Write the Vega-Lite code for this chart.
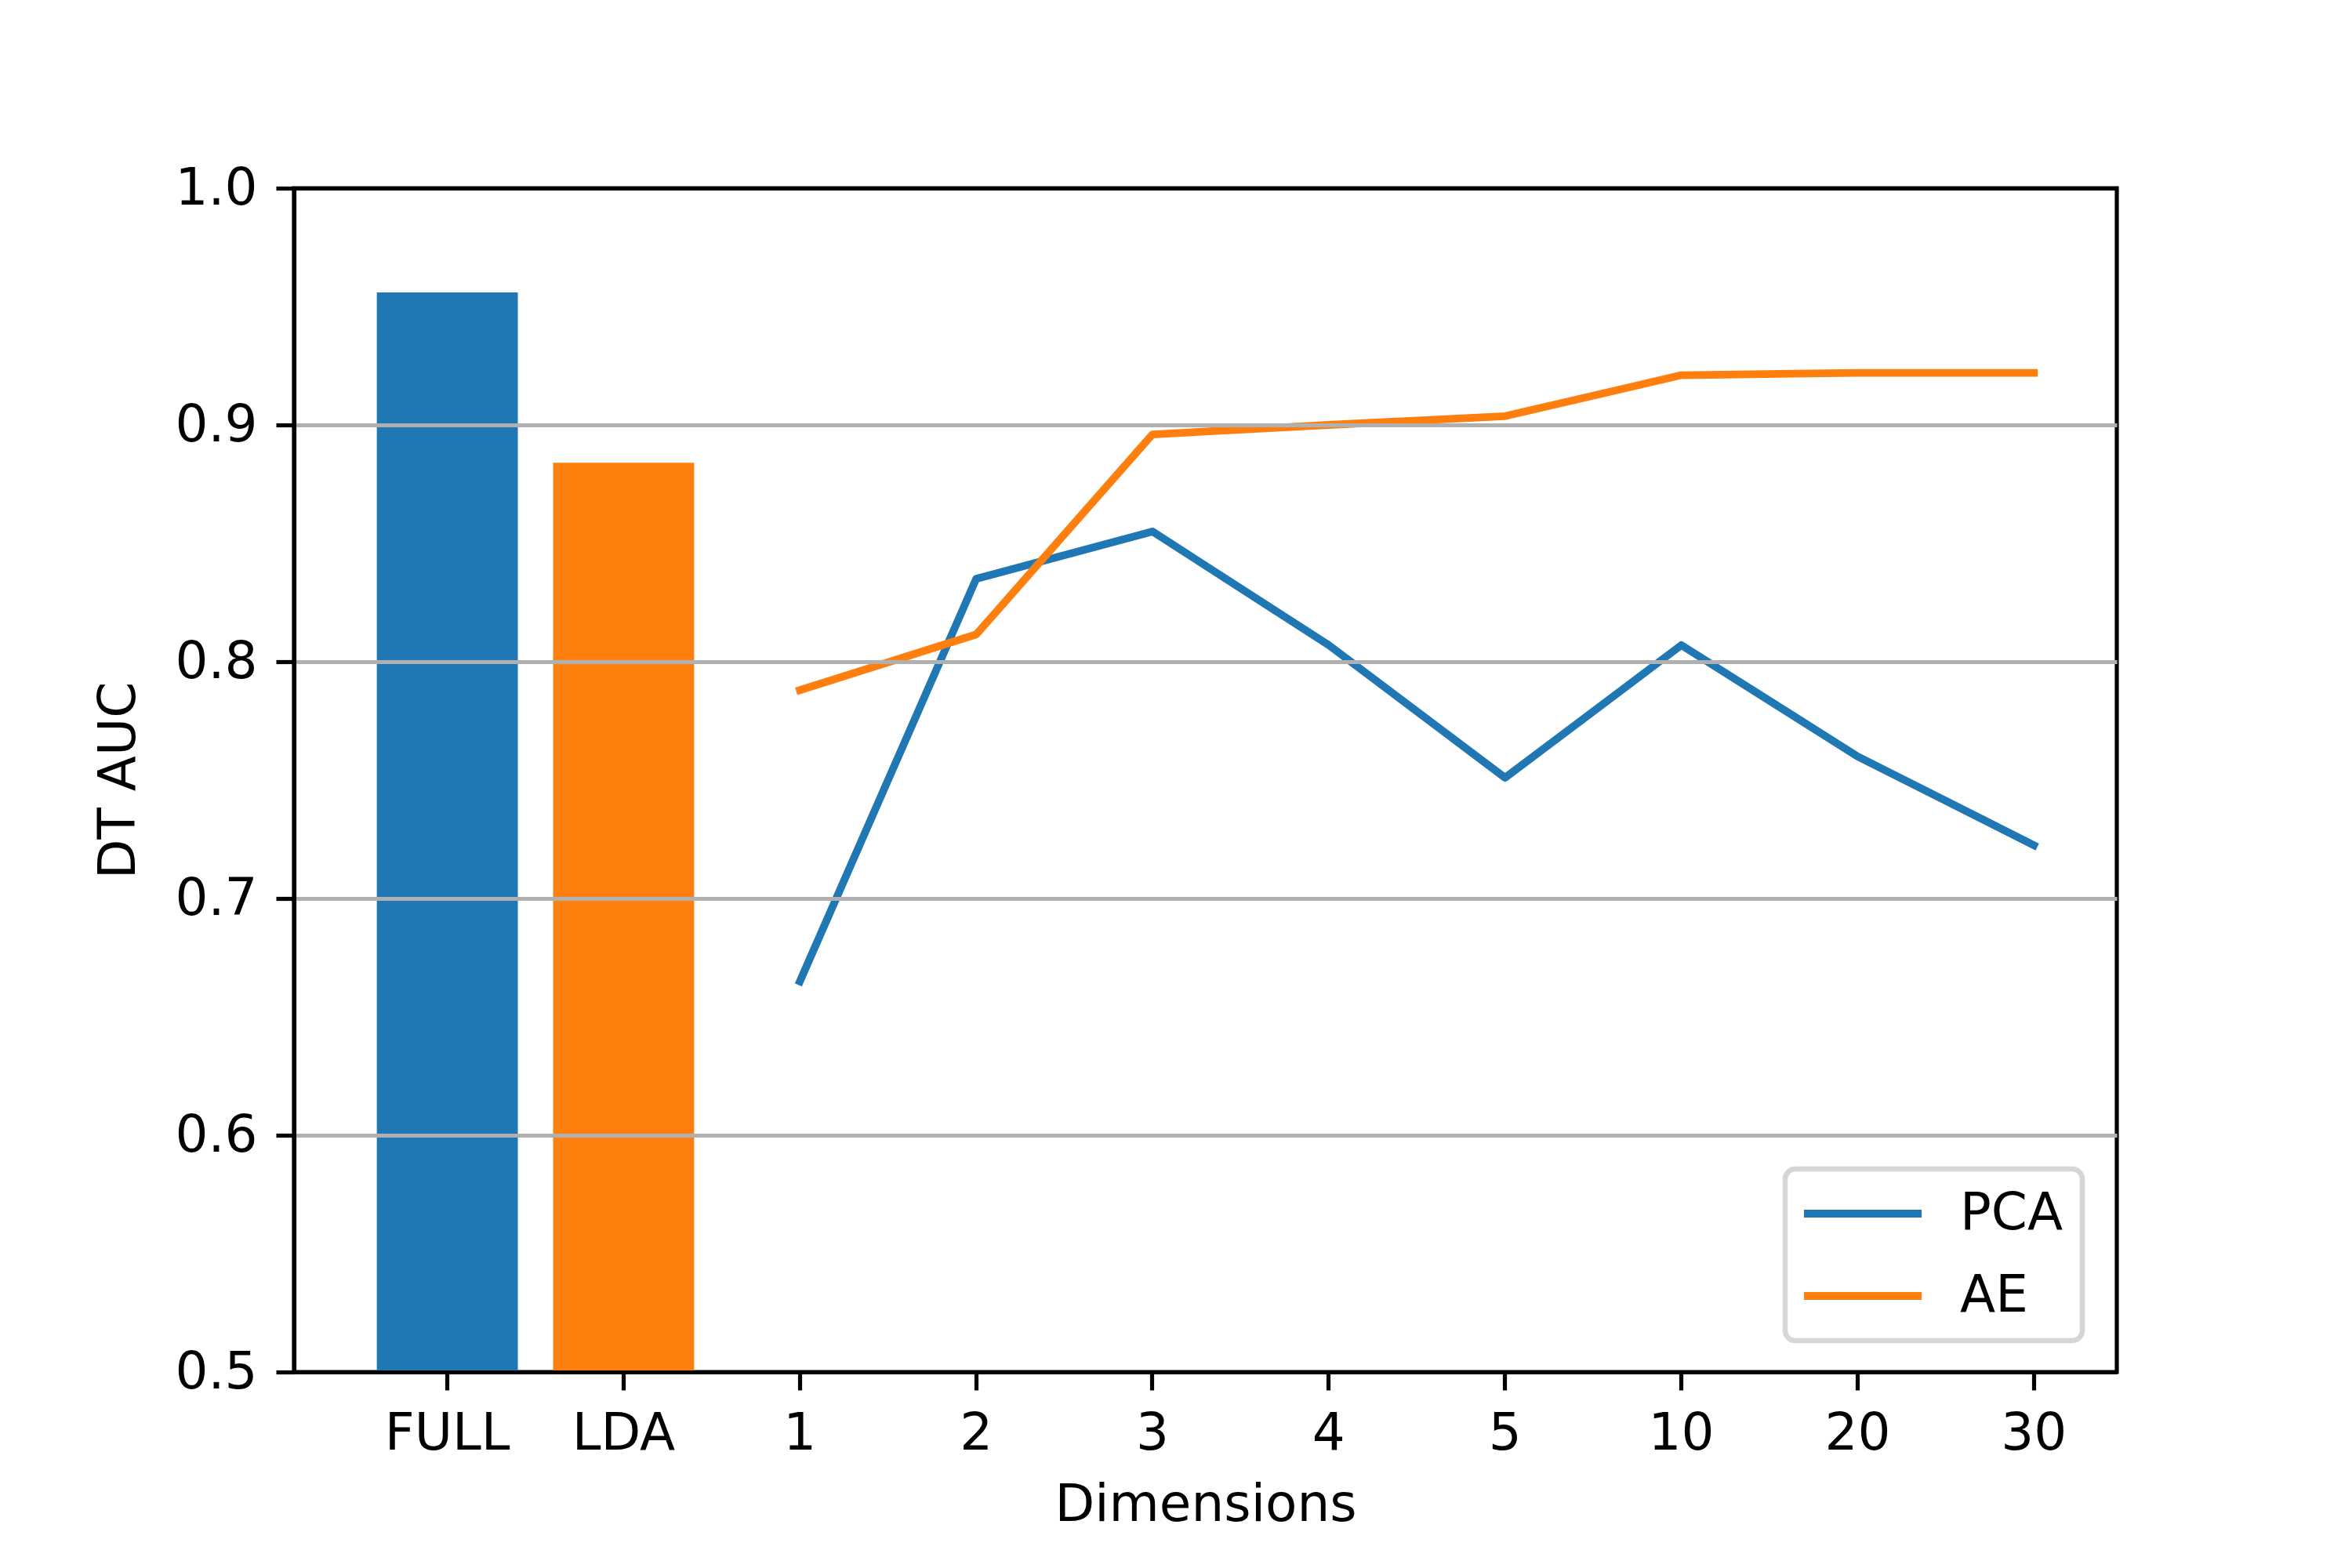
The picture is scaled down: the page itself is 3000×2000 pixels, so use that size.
{
  "$schema": "https://vega.github.io/schema/vega-lite/v6.json",
  "autosize": "none",
  "width": 2325,
  "height": 1510,
  "padding": {"left": 375, "top": 240, "right": 300, "bottom": 250},
  "background": "white",
  "config": {
    "font": "DejaVu Sans",
    "view": {"stroke": "black", "strokeWidth": 5.2},
    "axis": {
      "domainColor": "black", "domainWidth": 5.2,
      "tickColor": "black", "tickWidth": 5.2, "tickSize": 23,
      "labelFont": "DejaVu Sans", "labelFontSize": 66, "labelColor": "black",
      "titleFont": "DejaVu Sans", "titleFontSize": 66, "titleFontWeight": "normal", "titleColor": "black",
      "gridWidth": 5.2, "gridOpacity": 1
    },
    "legend": {
      "labelFont": "DejaVu Sans", "labelFontSize": 66, "labelColor": "black"
    }
  },
  "datasets": {
    "bars": [
      {"dim": "FULL", "method": "FULL", "auc": 0.956},
      {"dim": "LDA", "method": "LDA", "auc": 0.884}
    ],
    "lines": [
      {"dim": "1", "method": "PCA", "auc": 0.665},
      {"dim": "2", "method": "PCA", "auc": 0.835},
      {"dim": "3", "method": "PCA", "auc": 0.855},
      {"dim": "4", "method": "PCA", "auc": 0.807},
      {"dim": "5", "method": "PCA", "auc": 0.751},
      {"dim": "10", "method": "PCA", "auc": 0.807},
      {"dim": "20", "method": "PCA", "auc": 0.760},
      {"dim": "30", "method": "PCA", "auc": 0.7225},
      {"dim": "1", "method": "AE", "auc": 0.788},
      {"dim": "2", "method": "AE", "auc": 0.8115},
      {"dim": "3", "method": "AE", "auc": 0.896},
      {"dim": "4", "method": "AE", "auc": 0.900},
      {"dim": "5", "method": "AE", "auc": 0.9037},
      {"dim": "10", "method": "AE", "auc": 0.921},
      {"dim": "20", "method": "AE", "auc": 0.922},
      {"dim": "30", "method": "AE", "auc": 0.922}
    ]
  },
  "encoding": {
    "x": {
      "field": "dim", "type": "ordinal",
      "sort": ["FULL", "LDA", "1", "2", "3", "4", "5", "10", "20", "30"],
      "scale": {
        "type": "band",
        "domain": ["FULL", "LDA", "1", "2", "3", "4", "5", "10", "20", "30"],
        "paddingInner": 0.2, "paddingOuter": 0.27, "align": 0.87
      },
      "axis": {"title": "Dimensions", "labelAngle": 0, "labelPadding": 23, "grid": false,
               "titleBaseline": "alphabetic", "titleY": 189}
    },
    "y": {
      "field": "auc", "type": "quantitative",
      "scale": {"domain": [0.5, 1.0], "zero": false, "nice": false},
      "axis": {"title": "DT AUC", "values": [0.5, 0.6, 0.7, 0.8, 0.9, 1.0], "format": ".1f",
               "grid": true, "zindex": 1, "labelPadding": 24,
               "gridColor": {"condition": {"test": "datum.value <= 0.5 || datum.value >= 1", "value": "black"}, "value": "#b0b0b0"},
               "titleAngle": -90, "titleAlign": "center", "titleBaseline": "alphabetic",
               "titleX": -204, "titleY": 755}
    }
  },
  "layer": [
    {
      "data": {"name": "bars"},
      "mark": {"type": "bar"},
      "encoding": {
        "y2": {"datum": 0.5},
        "color": {
          "field": "method", "type": "nominal",
          "scale": {"domain": ["FULL", "LDA"], "range": ["#1f77b4", "#ff7f0e"]},
          "legend": null
        }
      }
    },
    {
      "data": {"name": "lines"},
      "mark": {"type": "line", "strokeWidth": 9.8, "strokeCap": "square", "strokeJoin": "round"},
      "encoding": {
        "color": {
          "field": "method", "type": "nominal",
          "scale": {"domain": ["PCA", "AE"], "range": ["#1f77b4", "#ff7f0e"]},
          "legend": {
            "title": null, "orient": "none", "legendX": 1902, "legendY": 1251,
            "symbolType": "M-3.3,0H11.7", "symbolSize": 400, "symbolStrokeWidth": 9.8,
            "labelOffset": 133, "rowPadding": 39, "padding": 24,
            "strokeColor": "#d6d6d6", "cornerRadius": 13, "fillColor": "white",
            "encode": {"legend": {"update": {"strokeWidth": {"value": 6.5}}}}
          }
        }
      }
    }
  ],
  "resolve": {"scale": {"color": "independent"}, "legend": {"color": "independent"}}
}
